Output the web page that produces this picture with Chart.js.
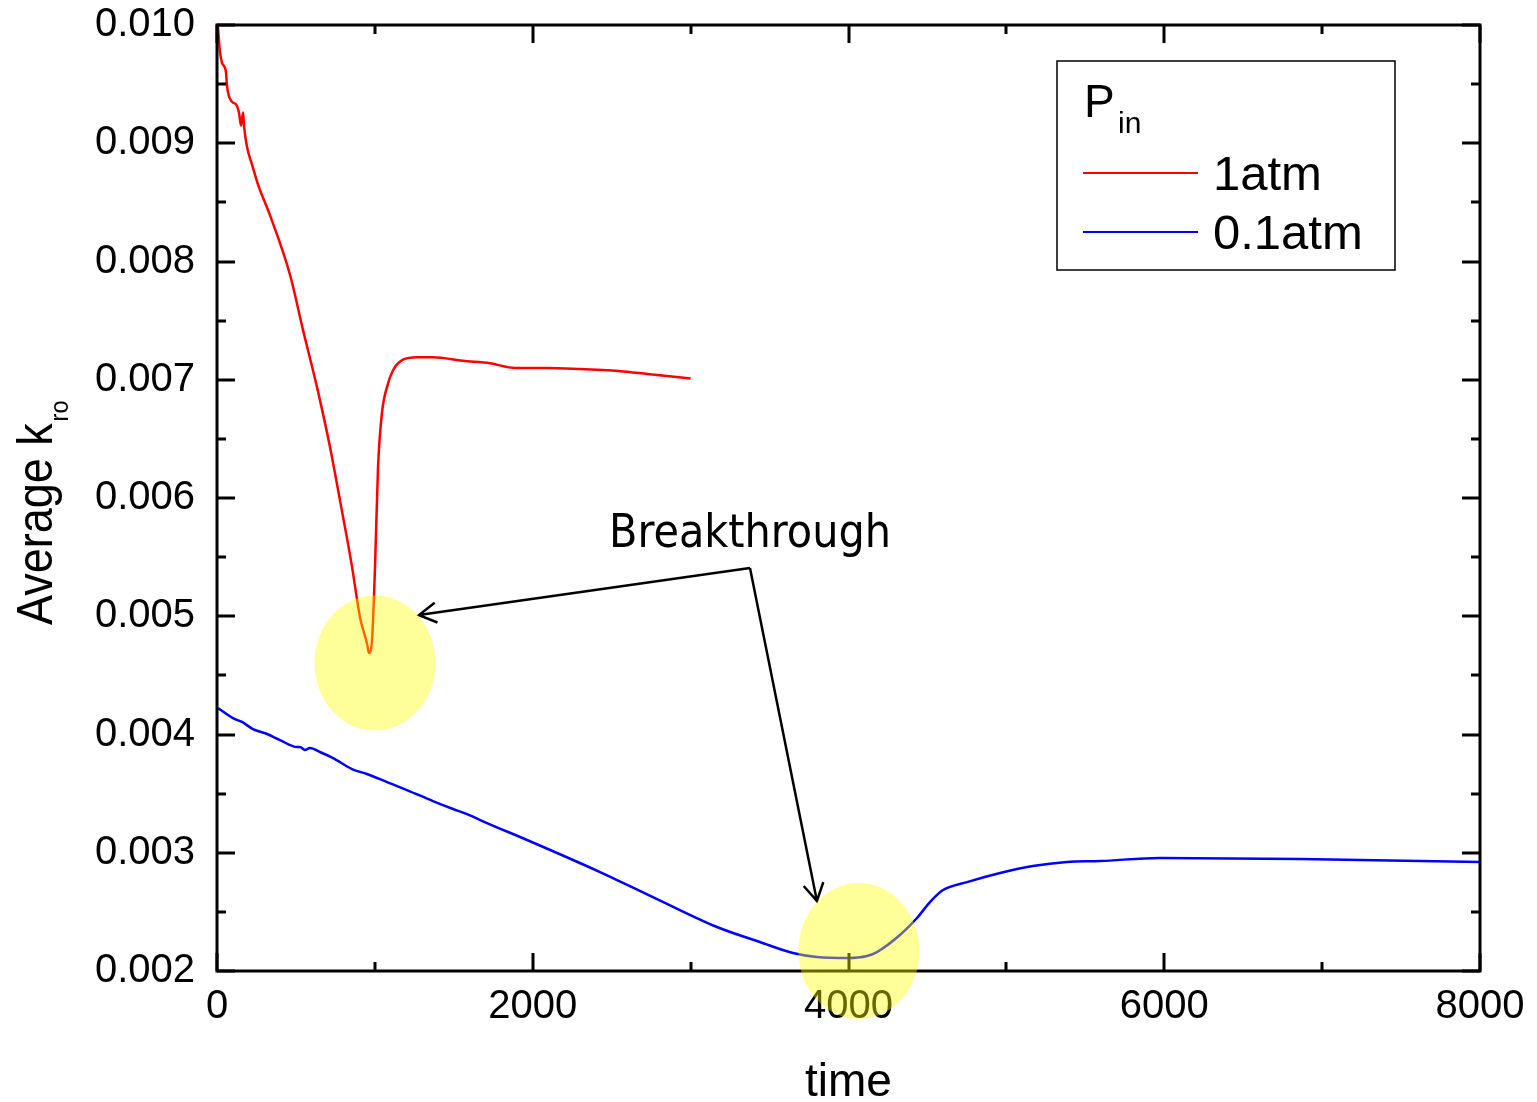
<!DOCTYPE html>
<html>
<head>
<meta charset="utf-8">
<title>Average kro vs time</title>
<script src="https://cdn.jsdelivr.net/npm/chart.js@4.4.1/dist/chart.umd.min.js"></script>
<style>
  html, body { margin: 0; padding: 0; background: #fff; }
  canvas { display: block; }
</style>
</head>
<body>
<canvas id="kroChart" width="1537" height="1102"></canvas>
<script>
// ==============================
// DATA
// ==============================
const redLabel = "1atm";
const redTime = [5, 19, 32, 57, 63, 95, 120, 139, 152, 165, 171, 190, 222, 260, 336, 462, 545, 633, 716, 779, 855, 906, 950, 963, 982, 1001, 1020, 1045, 1077, 1115, 1178, 1267, 1368, 1558, 1729, 1888, 2090, 2299, 2572, 2787, 3000];
const redKro = [0.01000, 0.00977, 0.00968, 0.00960, 0.00949, 0.00935, 0.00933, 0.00926, 0.00915, 0.00926, 0.00915, 0.00897, 0.00882, 0.00865, 0.00839, 0.00789, 0.00742, 0.00694, 0.00643, 0.00598, 0.00542, 0.00499, 0.00477, 0.00469, 0.00480, 0.00542, 0.00626, 0.00672, 0.00694, 0.00708, 0.00717, 0.00719, 0.00719, 0.00716, 0.00714, 0.00710, 0.00710, 0.00709, 0.00707, 0.00704, 0.00701];

const blueLabel = "0.1atm";
const blueTime = [6, 101, 158, 228, 317, 399, 507, 526, 557, 589, 652, 735, 855, 950, 1077, 1203, 1368, 1495, 1584, 1710, 1964, 2426, 2534, 2774, 3167, 3439, 3648, 3800, 3997, 4117, 4180, 4326, 4434, 4516, 4599, 4751, 4960, 5168, 5384, 5593, 5973, 6860, 8000];
const blueKro = [0.004224, 0.004139, 0.004106, 0.004046, 0.004004, 0.003953, 0.003894, 0.003894, 0.003869, 0.003886, 0.003852, 0.003801, 0.003708, 0.003666, 0.003598, 0.003530, 0.003437, 0.003370, 0.003327, 0.003251, 0.003108, 0.002837, 0.002769, 0.002617, 0.002372, 0.002245, 0.002152, 0.002118, 0.002110, 0.002127, 0.002160, 0.002304, 0.002448, 0.002583, 0.002685, 0.002752, 0.002829, 0.002888, 0.002922, 0.002930, 0.002956, 0.002947, 0.002922];

const xTicks = [0, 2000, 4000, 6000, 8000];
const yTicks = [0.002, 0.003, 0.004, 0.005, 0.006, 0.007, 0.008, 0.009, 0.010];

// ==============================
// ANNOTATIONS (data units)
// ==============================
const noteText = "Breakthrough";
const noteAnchor = { x: 3376, y: 0.005585 };   // text centre / baseline
const arrowFrom = { x: 3376, y: 0.005408 };
const arrowTips = [
  { x: 1279, y: 0.005010 },
  { x: 3800, y: 0.002592 },
];
const highlights = [
  { x: 1001, y: 0.004604, rx: 383, ry: 0.000571 },
  { x: 4066, y: 0.002169, rx: 383, ry: 0.000575 },
];

const SANS = "'Liberation Sans', Arial, sans-serif";

function toPoints(xs, ys) {
  return xs.map((x, i) => ({ x, y: ys[i] }));
}

// ==============================
// FRAME + INSIDE TICKS
// ==============================
const framePlugin = {
  id: "frame",
  afterDatasetsDraw(chart) {
    const { ctx, chartArea: a, scales } = chart;
    const major = 18, minor = 9;
    ctx.save();
    ctx.strokeStyle = "#000";
    ctx.lineWidth = 3;
    ctx.lineCap = "square";
    ctx.strokeRect(a.left, a.top, a.right - a.left, a.bottom - a.top);

    const tickPairs = (vals) => {
      const out = [];
      vals.forEach((v, i) => {
        out.push({ v, len: major });
        if (i < vals.length - 1) out.push({ v: (v + vals[i + 1]) / 2, len: minor });
      });
      return out;
    };

    ctx.lineCap = "butt";
    ctx.beginPath();
    tickPairs(xTicks).forEach(({ v, len }) => {
      const px = Math.round(scales.x.getPixelForValue(v));
      ctx.moveTo(px, a.bottom); ctx.lineTo(px, a.bottom - len);
      ctx.moveTo(px, a.top); ctx.lineTo(px, a.top + len);
    });
    tickPairs(yTicks).forEach(({ v, len }) => {
      const py = Math.round(scales.y.getPixelForValue(v));
      ctx.moveTo(a.left, py); ctx.lineTo(a.left + len, py);
      ctx.moveTo(a.right, py); ctx.lineTo(a.right - len, py);
    });
    ctx.stroke();
    ctx.restore();
  },
};

// ==============================
// TITLES, LEGEND, NOTES
// ==============================
const decorPlugin = {
  id: "decor",
  afterDraw(chart) {
    const { ctx, chartArea: a, scales } = chart;
    const X = (v) => scales.x.getPixelForValue(v);
    const Y = (v) => scales.y.getPixelForValue(v);

    ctx.save();
    ctx.fillStyle = "#000";

    // x title
    ctx.font = `46px ${SANS}`;
    ctx.textAlign = "center";
    ctx.textBaseline = "alphabetic";
    ctx.fillText("time", (a.left + a.right) / 2, 1096);

    // y title with subscript
    ctx.save();
    ctx.translate(52, 625);
    ctx.rotate(-Math.PI / 2);
    ctx.scale(0.9, 1);
    ctx.textAlign = "left";
    ctx.font = `50px ${SANS}`;
    ctx.fillText("Average k", 0, 0);
    const w = ctx.measureText("Average k").width;
    ctx.font = `26px ${SANS}`;
    ctx.fillText("ro", w + 2, 16);
    ctx.restore();

    // legend box
    ctx.lineWidth = 1.5;
    ctx.strokeStyle = "#000";
    ctx.strokeRect(1057, 61, 338, 209);
    ctx.textAlign = "left";
    ctx.font = `46px ${SANS}`;
    ctx.fillText("P", 1084, 117);
    ctx.font = `30px ${SANS}`;
    ctx.fillText("in", 1118, 133);

    const rows = [173, 232];
    chart.data.datasets.forEach((ds, i) => {
      ctx.strokeStyle = ds.borderColor;
      ctx.lineWidth = 2;
      ctx.beginPath();
      ctx.moveTo(1083, rows[i]);
      ctx.lineTo(1198, rows[i]);
      ctx.stroke();
      ctx.font = `49px ${SANS}`;
      ctx.fillStyle = "#000";
      ctx.fillText(ds.label, 1213, rows[i] + 17);
    });

    // note text
    ctx.save();
    ctx.font = "47px 'DejaVu Sans Condensed', 'DejaVu Sans', sans-serif";
    const tw = ctx.measureText(noteText).width;
    const sx = 282 / tw;
    ctx.translate(X(noteAnchor.x), Y(noteAnchor.y));
    ctx.scale(sx, 1);
    ctx.textAlign = "center";
    ctx.fillText(noteText, 0, 0);
    ctx.restore();

    // arrows
    ctx.strokeStyle = "#000";
    ctx.lineWidth = 2.5;
    const fx = X(arrowFrom.x), fy = Y(arrowFrom.y);
    arrowTips.forEach((t) => {
      const tx = X(t.x), ty = Y(t.y);
      const ang = Math.atan2(ty - fy, tx - fx);
      const head = 20, spread = Math.PI / 6;
      ctx.beginPath();
      ctx.moveTo(fx, fy);
      ctx.lineTo(tx, ty);
      ctx.moveTo(tx - head * Math.cos(ang - spread), ty - head * Math.sin(ang - spread));
      ctx.lineTo(tx, ty);
      ctx.lineTo(tx - head * Math.cos(ang + spread), ty - head * Math.sin(ang + spread));
      ctx.stroke();
    });

    // translucent yellow highlights on top of everything
    ctx.fillStyle = "rgba(255, 255, 0, 0.4)";
    highlights.forEach((h) => {
      const cx = X(h.x), cy = Y(h.y);
      const rx = Math.abs(X(h.x + h.rx) - cx);
      const ry = Math.abs(Y(h.y + h.ry) - cy);
      ctx.beginPath();
      ctx.ellipse(cx, cy, rx, ry, 0, 0, Math.PI * 2);
      ctx.fill();
    });

    ctx.restore();
  },
};

// ==============================
// CHART
// ==============================
const ctx = document.getElementById("kroChart");

new Chart(ctx, {
  type: "line",
  data: {
    datasets: [
      {
        label: redLabel,
        data: toPoints(redTime, redKro),
        borderColor: "#ff0000",
        borderWidth: 2.5,
        pointRadius: 0,
        fill: false,
        cubicInterpolationMode: "monotone",
      },
      {
        label: blueLabel,
        data: toPoints(blueTime, blueKro),
        borderColor: "#0000ff",
        borderWidth: 2.5,
        pointRadius: 0,
        fill: false,
        cubicInterpolationMode: "monotone",
      },
    ],
  },
  options: {
    responsive: false,
    devicePixelRatio: 1,
    animation: false,
    events: [],
    layout: { padding: { top: 25, right: 57, left: 0, bottom: 0 } },
    plugins: {
      legend: { display: false },
      tooltip: { enabled: false },
    },
    scales: {
      x: {
        type: "linear",
        min: 0,
        max: 8000,
        grid: { display: false, drawTicks: false },
        border: { display: false },
        afterBuildTicks: (axis) => { axis.ticks = xTicks.map((v) => ({ value: v })); },
        afterFit: (axis) => {
          axis.height = 131;
          axis.paddingLeft = 0;
          axis.paddingRight = 0;
        },
        ticks: {
          color: "#000",
          padding: 12,
          maxRotation: 0,
          font: { family: SANS, size: 40 },
          callback: (v) => String(v),
        },
      },
      y: {
        type: "linear",
        min: 0.002,
        max: 0.010,
        grid: { display: false, drawTicks: false },
        border: { display: false },
        afterBuildTicks: (axis) => { axis.ticks = yTicks.map((v) => ({ value: v })); },
        afterFit: (axis) => {
          axis.width = 217;
          axis.paddingTop = 0;
          axis.paddingBottom = 0;
        },
        ticks: {
          color: "#000",
          padding: 22,
          font: { family: SANS, size: 40 },
          callback: (v) => Number(v).toFixed(3),
        },
      },
    },
  },
  plugins: [framePlugin, decorPlugin],
});
</script>
</body>
</html>
